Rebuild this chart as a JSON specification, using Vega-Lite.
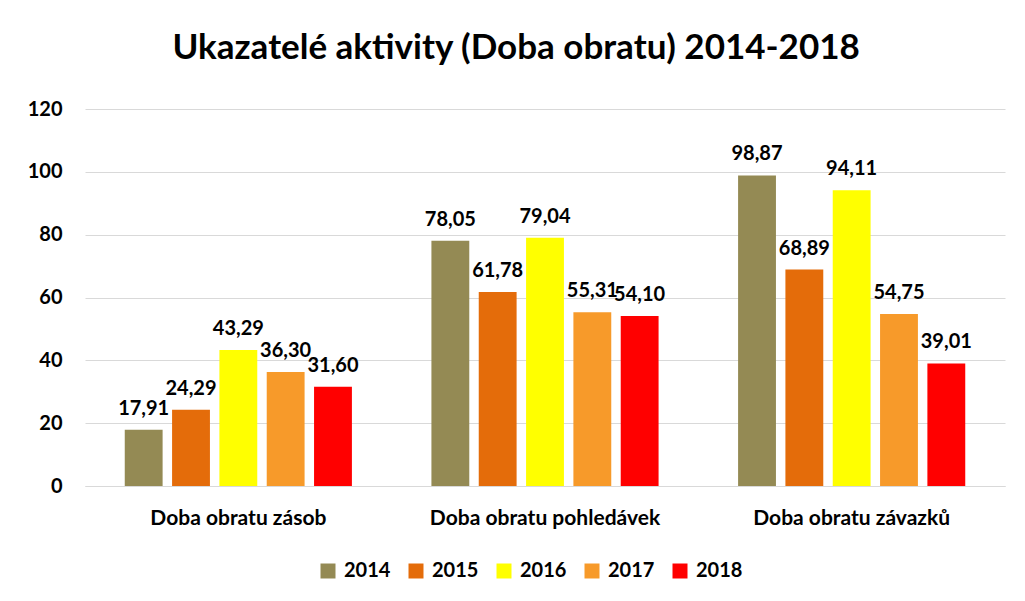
{
  "$schema": "https://vega.github.io/schema/vega-lite/v6.json",
  "width": 920,
  "height": 377,
  "autosize": {"type": "none"},
  "padding": {"left": 85, "top": 109, "right": 20, "bottom": 115},
  "background": "white",
  "title": {
    "text": "Ukazatelé aktivity (Doba obratu) 2014-2018",
    "font": "Lato",
    "fontSize": 35,
    "fontWeight": "bold",
    "color": "#000000",
    "anchor": "middle",
    "frame": "bounds",
    "offset": 33
  },
  "data": {
    "values": [
      {"ukazatel": "Doba obratu zásob", "rok": "2014", "hodnota": 17.91},
      {"ukazatel": "Doba obratu zásob", "rok": "2015", "hodnota": 24.29},
      {"ukazatel": "Doba obratu zásob", "rok": "2016", "hodnota": 43.29},
      {"ukazatel": "Doba obratu zásob", "rok": "2017", "hodnota": 36.30},
      {"ukazatel": "Doba obratu zásob", "rok": "2018", "hodnota": 31.60},
      {"ukazatel": "Doba obratu pohledávek", "rok": "2014", "hodnota": 78.05},
      {"ukazatel": "Doba obratu pohledávek", "rok": "2015", "hodnota": 61.78},
      {"ukazatel": "Doba obratu pohledávek", "rok": "2016", "hodnota": 79.04},
      {"ukazatel": "Doba obratu pohledávek", "rok": "2017", "hodnota": 55.31},
      {"ukazatel": "Doba obratu pohledávek", "rok": "2018", "hodnota": 54.10},
      {"ukazatel": "Doba obratu závazků", "rok": "2014", "hodnota": 98.87},
      {"ukazatel": "Doba obratu závazků", "rok": "2015", "hodnota": 68.89},
      {"ukazatel": "Doba obratu závazků", "rok": "2016", "hodnota": 94.11},
      {"ukazatel": "Doba obratu závazků", "rok": "2017", "hodnota": 54.75},
      {"ukazatel": "Doba obratu závazků", "rok": "2018", "hodnota": 39.01}
    ]
  },
  "encoding": {
    "x": {
      "field": "ukazatel",
      "type": "nominal",
      "sort": ["Doba obratu zásob", "Doba obratu pohledávek", "Doba obratu závazků"],
      "scale": {"paddingInner": 0.25, "paddingOuter": 0.125},
      "axis": {
        "title": null,
        "labelAngle": 0,
        "labelLimit": 0,
        "ticks": false,
        "domainColor": "#d9d9d9",
        "domainWidth": 1,
        "labelFont": "Lato",
        "labelFontSize": 21,
        "labelFontWeight": "bold",
        "labelColor": "#000000",
        "labelPadding": 21
      }
    },
    "xOffset": {
      "field": "rok",
      "type": "nominal",
      "scale": {"paddingInner": 0.2, "paddingOuter": 0.03}
    },
    "y": {
      "field": "hodnota",
      "type": "quantitative",
      "scale": {"domain": [0, 120]},
      "axis": {
        "title": null,
        "values": [0, 20, 40, 60, 80, 100, 120],
        "domain": false,
        "ticks": false,
        "gridColor": "#d9d9d9",
        "gridWidth": 1,
        "labelFont": "Lato",
        "labelFontSize": 20,
        "labelFontWeight": "bold",
        "labelColor": "#000000",
        "labelPadding": 23
      }
    }
  },
  "layer": [
    {
      "mark": {"type": "bar"},
      "encoding": {
        "color": {
          "field": "rok",
          "type": "nominal",
          "scale": {
            "domain": ["2014", "2015", "2016", "2017", "2018"],
            "range": ["#948A54", "#E46C0A", "#FFFF00", "#F79A2A", "#FF0000"]
          },
          "legend": {
            "title": null,
            "orient": "none",
            "direction": "horizontal",
            "legendX": 233,
            "legendY": 452,
            "symbolType": "square",
            "symbolSize": 225,
            "symbolStrokeWidth": 0,
            "labelFont": "Lato",
            "labelFontSize": 20,
            "labelFontWeight": "bold",
            "labelColor": "#000000",
            "columnPadding": 15,
            "labelOffset": 6
          }
        }
      }
    },
    {
      "mark": {
        "type": "text",
        "baseline": "bottom",
        "dy": -11,
        "font": "Lato",
        "fontSize": 20,
        "fontWeight": "bold",
        "color": "#000000"
      },
      "encoding": {
        "text": {"field": "hodnota", "type": "quantitative", "format": ".2f"}
      }
    }
  ],
  "config": {
    "view": {"stroke": null},
    "locale": {
      "number": {"decimal": ",", "thousands": " ", "grouping": [3], "currency": ["", " Kč"]}
    }
  }
}
